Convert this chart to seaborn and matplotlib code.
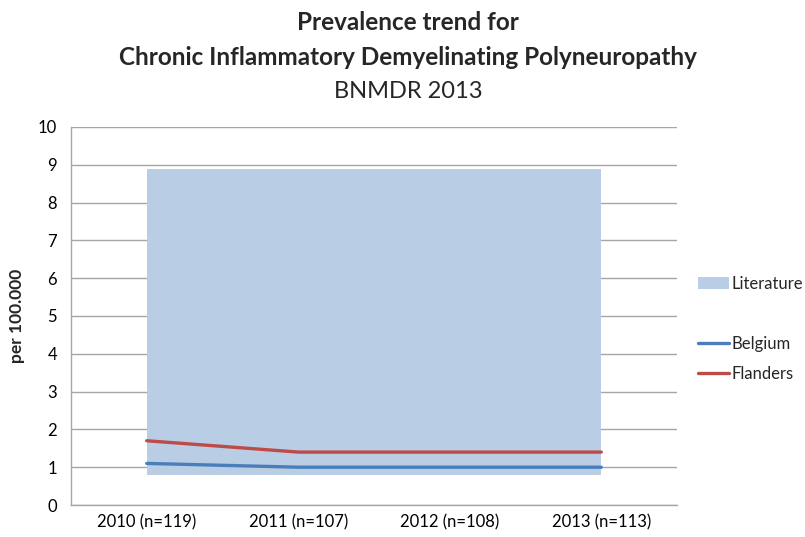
import matplotlib
matplotlib.use("Agg")
import matplotlib.pyplot as plt
import seaborn as sns
import pandas as pd
import numpy as np
from matplotlib.patches import Patch
from matplotlib.lines import Line2D

categories = ["2010 (n=119)", "2011 (n=107)", "2012 (n=108)", "2013 (n=113)"]
belgium = [1.1, 1.0, 1.0, 1.0]
flanders = [1.7, 1.4, 1.4, 1.4]
literature_low = [0.8, 0.8, 0.8, 0.8]
literature_high = [8.9, 8.9, 8.9, 8.9]
y_ticks = [0, 1, 2, 3, 4, 5, 6, 7, 8, 9, 10]

sns.set_theme(style="white")
plt.rcParams["font.family"] = ["Lato", "DejaVu Sans"]

pos = np.arange(len(categories))
df = pd.DataFrame({
    "pos": np.concatenate([pos, pos]),
    "value": belgium + flanders,
    "series": ["Belgium"] * 4 + ["Flanders"] * 4,
})

fig = plt.figure(figsize=(8.05, 5.37), dpi=100)
ax = fig.add_axes([71 / 805, 1 - 505 / 537, (677 - 71) / 805, (505 - 127) / 537])

c_lit = "#B9CDE5"
c_bel = "#4A7EBB"
c_fla = "#BE4B48"
grid_c = "#A6A6A6"

ax.fill_between(pos, literature_low, literature_high, color=c_lit, linewidth=0, zorder=1)
sns.lineplot(data=df, x="pos", y="value", hue="series",
             palette={"Belgium": c_bel, "Flanders": c_fla},
             linewidth=2.4, ax=ax, legend=False, zorder=3)

ax.set_xlim(-0.5, len(categories) - 0.5)
ax.set_ylim(0, 10)
ax.set_yticks(y_ticks)
ax.set_yticklabels([str(v) for v in y_ticks], fontsize=12, color="#000000")
ax.set_xticks(pos)
ax.set_xticklabels(categories, fontsize=12, color="#000000")
ax.set_xticks(np.arange(-0.5, len(categories)), minor=True)
ax.tick_params(axis="x", which="major", length=0, pad=7)
ax.tick_params(axis="x", which="minor", length=5, color=grid_c, direction="out", width=1)
ax.tick_params(axis="y", which="major", length=5, color=grid_c, direction="out", width=1, pad=5)
ax.yaxis.grid(True, color=grid_c, linewidth=1)
ax.set_axisbelow(True)
for s in ["top", "right"]:
    ax.spines[s].set_visible(False)
for s in ["left", "bottom"]:
    ax.spines[s].set_color(grid_c)
    ax.spines[s].set_linewidth(1)
ax.set_xlabel("")
ax.set_ylabel("per 100.000", fontsize=12.5, fontweight="bold", labelpad=9)

handles = [
    Patch(facecolor=c_lit, edgecolor="none"),
    Line2D([], [], color="none"),
    Line2D([], [], color=c_bel, linewidth=2.4),
    Line2D([], [], color=c_fla, linewidth=2.4),
]
labels = ["Literature", "", "Belgium", "Flanders"]
fig.legend(handles, labels, loc="center left", bbox_to_anchor=(698 / 805, 1 - 329 / 537),
           frameon=False, fontsize=12, handlelength=1.85, handletextpad=0.15,
           labelspacing=0.85, borderaxespad=0, borderpad=0)

cx = 408 / 805
fig.text(cx, 1 - 22 / 537, "Prevalence trend for", ha="center", va="center",
         fontsize=17.5, fontweight="bold")
fig.text(cx, 1 - 57 / 537, "Chronic Inflammatory Demyelinating Polyneuropathy", ha="center",
         va="center", fontsize=17.5, fontweight="bold")
fig.text(cx, 1 - 92 / 537, "BNMDR 2013", ha="center", va="center", fontsize=17)

fig.savefig("out.png", dpi=100)
